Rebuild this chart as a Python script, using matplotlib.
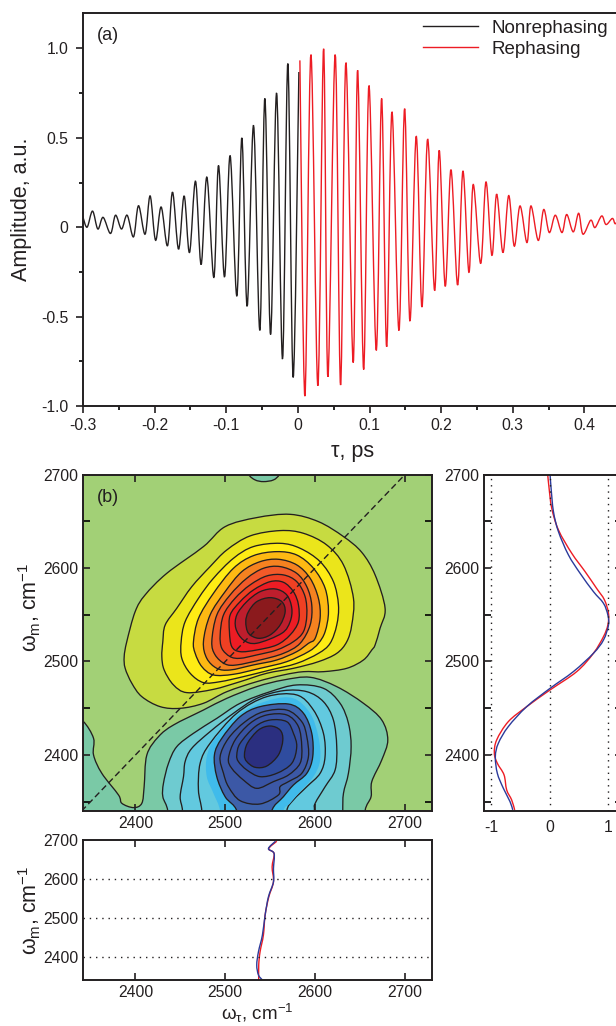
import numpy as np
import matplotlib
matplotlib.use('Agg')
import matplotlib.pyplot as plt
from matplotlib.path import Path
from matplotlib.patches import PathPatch
from matplotlib.ticker import MultipleLocator

plt.rcParams['font.family'] = ['Liberation Sans', 'DejaVu Sans']
plt.rcParams['mathtext.fontset'] = 'custom'
plt.rcParams['mathtext.rm'] = 'Liberation Sans'
plt.rcParams['mathtext.it'] = 'Liberation Sans'
plt.rcParams['mathtext.bf'] = 'Liberation Sans'

# panel (a): extrema of the two signals
nonreph_t = [-.3003, -.2943, -.2867, -.2793, -.2719, -.2616, -.2546, -.2462, -.2384, -.2295,
             -.2225, -.2133, -.2063, -.1987, -.1909, -.1820, -.1750, -.1666, -.1588, -.1513,
             -.1429, -.1351, -.1271, -.1173, -.1108, -.1024, -.0946, -.0852, -.0782, -.0708,
             -.0619, -.0531, -.0461, -.0381, -.0297, -.0214, -.0140, -.0066, .0014]
nonreph_a = [.06, 0, .09, -.01, .055, -.035, .067, -.01, .067, -.054,
             .12, -.039, .175, -.073, .113, -.104, .196, -.123, .175, -.142,
             .257, -.209, .28, -.281, .345, -.278, .40, -.384, .50, -.442,
             .568, -.576, .72, -.60, .75, -.736, .915, -.84, .868]
reph_t = [.0028, .0098, .0182, .0279, .0359, .0419, .0521, .0596, .0670, .0772,
          .0834, .0918, .0992, .1094, .1169, .1239, .1313, .1411, .1490, .1564,
          .1652, .1732, .1811, .1909, .1973, .2057, .2137, .2230, .2304, .2388,
          .2448, .2552, .2626, .2709, .2775, .2863, .2943, .3021, .3101, .3198,
          .3254, .3356, .3432, .3510, .3594, .3687, .3753, .3845, .3920, .3980,
          .4088, .4148, .4242, .4302, .4390, .4427, .4455]
reph_a = [.933, -.945, .965, -.887, .998, -.837, .965, -.883, .92, -.757,
          .878, -.796, .792, -.689, .72, -.669, .645, -.578, .663, -.524,
          .509, -.447, .492, -.354, .43, -.33, .322, -.324, .313, -.253,
          .239, -.203, .253, -.158, .185, -.142, .177, -.106, .119, -.086,
          .119, -.074, .099, -.03, .067, -.03, .071, -.026, .078, -.039,
          .039, -.002, .063, .015, .049, .02, .03]

# panel (b): positive contours, outer to inner
pos_1 = [(2390.4, 2521.3), (2399.7, 2553.3), (2410.8, 2571.2), (2434.9, 2594.3), (2475.7, 2622.9),
         (2499.8, 2644.2), (2535, 2653.9), (2572.1, 2657.4), (2603.6, 2649.6), (2631.5, 2633.6),
         (2651.8, 2616.8), (2666.7, 2592.6), (2677.8, 2556.9), (2672.2, 2535.5), (2666.7, 2517.7),
         (2663, 2512.3), (2653.7, 2501.6), (2635.2, 2492.7), (2609.2, 2489.1), (2587, 2489.1),
         (2564.7, 2485.6), (2535, 2478.4), (2501.7, 2467.7), (2475.7, 2455.3), (2449.8, 2449.9),
         (2427.5, 2451.7), (2407.1, 2462.4), (2396, 2476.7), (2388.6, 2492.7), (2387.5, 2505.2)]
pos_2 = [(2430.5, 2521.3), (2433.1, 2539), (2446, 2556.9), (2462.7, 2580), (2483.1, 2601.5),
         (2501.7, 2619.3), (2527.6, 2634.3), (2561, 2640), (2587, 2637.1), (2612.9, 2624.6),
         (2631.5, 2603.3), (2642.6, 2567.6), (2640.7, 2539), (2635.2, 2521.2), (2624, 2508.7),
         (2603.6, 2499.8), (2575.8, 2492.7), (2546.2, 2487.4), (2516.5, 2478.4), (2486.8, 2470.2),
         (2457.2, 2466.7), (2442.4, 2474.9), (2432, 2490.9), (2429.4, 2505.2)]
pos_3 = [(2450.9, 2521.3), (2455.3, 2542.6), (2470.2, 2567.6), (2486.8, 2589), (2509.1, 2610.4),
         (2531.3, 2622.9), (2561, 2626.4), (2583.2, 2621.1), (2605.5, 2606.8), (2620.3, 2585.4),
         (2625.9, 2560.5), (2624, 2539), (2616.6, 2519.4), (2603.6, 2508.7), (2579.5, 2498),
         (2549.9, 2490.9), (2520.2, 2483.8), (2494.3, 2478.4), (2475.7, 2477.4), (2460.9, 2487.4),
         (2451.6, 2503.4)]
pos_4 = [(2464.6, 2521.3), (2470.2, 2546.2), (2486.8, 2572.9), (2509.1, 2599.7), (2531.3, 2613.2),
         (2557.3, 2617.5), (2579.5, 2613.9), (2598.1, 2599.7), (2611.1, 2578.3), (2614.8, 2553.3),
         (2611.1, 2532), (2603.6, 2519.4), (2592.5, 2510.5), (2568.4, 2499.8), (2538.8, 2492.7),
         (2509.1, 2486.3), (2486.8, 2485.6), (2473.9, 2494.5), (2466.5, 2508.7)]
pos_5 = [(2475.7, 2521.3), (2483.1, 2549.8), (2499.8, 2574.7), (2518.4, 2596.1), (2538.8, 2606.8),
         (2559.2, 2609.3), (2579.5, 2603.3), (2594.4, 2589), (2603.6, 2567.6), (2605.5, 2546.2),
         (2600, 2524.8), (2592.5, 2519.4), (2579.5, 2510.5), (2557.3, 2501.6), (2531.3, 2496.3),
         (2505.4, 2490.9), (2490.6, 2492.7), (2479.4, 2503.4)]
pos_6 = [(2485, 2521.3), (2490.6, 2549.8), (2505.4, 2571.2), (2523.9, 2589), (2542.5, 2599.7),
         (2561, 2601.5), (2579.5, 2594.3), (2590.7, 2580), (2596.2, 2560.5), (2594.4, 2539),
         (2583.2, 2519.4), (2564.7, 2508.7), (2538.8, 2501.6), (2512.8, 2496.3), (2499.8, 2497.3),
         (2488.7, 2507)]
pos_7 = [(2494.3, 2528.4), (2498, 2549.8), (2510.9, 2567.6), (2527.6, 2581.9), (2546.2, 2591.5),
         (2564.7, 2592.6), (2579.5, 2585.4), (2588.8, 2569.4), (2590.7, 2549.8), (2587, 2532),
         (2575.8, 2521.2), (2557.3, 2512.3), (2535, 2507), (2516.5, 2503.4), (2505.4, 2505.2),
         (2496.1, 2514.1)]
pos_8 = [(2504.6, 2532), (2505.4, 2549.8), (2516.5, 2564), (2531.3, 2576.5), (2549.9, 2585.4),
         (2564.7, 2584.7), (2575.8, 2574.7), (2581.4, 2560.5), (2581.4, 2542.6), (2572.1, 2528.4),
         (2557.3, 2517.7), (2535, 2512.3), (2516.5, 2510.5), (2507.2, 2515.9)]
pos_9 = [(2511.7, 2535.5), (2512.8, 2549.8), (2523.9, 2564), (2538.8, 2574.7), (2555.4, 2577.6),
         (2568.4, 2571.2), (2574, 2556.9), (2572.1, 2542.6), (2562.9, 2530.2), (2535, 2519.5),
         (2520.2, 2523)]
pos_10 = [(2522.8, 2542.6), (2525.8, 2553.3), (2535, 2564), (2549.9, 2568.3), (2562.9, 2564),
          (2566.6, 2553.3), (2561, 2539), (2549.9, 2528.4), (2536.9, 2524.8), (2525.8, 2530.2)]
pos_colors = ['#C7DB41', '#EBE51B', '#FFEC14', '#FDB913', '#F58220', '#F15A29', '#EF4023',
              '#ED1C24', '#BE1E2D', '#8B1A1D']

# negative contours: the first ones run off the lower edge of the map
neg_top = [(2522, 2712), (2525.8, 2700.2), (2533.2, 2694.2), (2542.5, 2692.4), (2553.6, 2694.2),
           (2560.3, 2700.2), (2564, 2712)]
neg_1 = [(2330, 2440), (2342.2, 2435.7), (2353.4, 2417.8), (2353.4, 2400), (2362.6, 2380.4), (2381.2, 2357.2),
         (2384.9, 2348.3), (2397.9, 2343.7), (2407.1, 2348.3), (2409.7, 2366.1), (2412.7, 2400),
         (2425.7, 2419.6), (2442.4, 2432.1), (2475.7, 2448.1), (2501.7, 2460.6), (2535, 2473.1),
         (2564.7, 2480.2), (2594.4, 2483.1), (2624, 2473.1), (2653.7, 2455.3), (2674.1, 2437.4),
         (2680.8, 2416), (2674.1, 2394.7), (2663, 2371.5), (2662.2, 2355.4), (2655.6, 2340.5)]
neg_2 = [(2436, 2340), (2430.5, 2355.4), (2431.2, 2369.7), (2436.8, 2391.1), (2446, 2408.9),
         (2464.6, 2423.2), (2490.6, 2439.2), (2516.5, 2455.3), (2549.9, 2467.7), (2579.5, 2474.9),
         (2609.2, 2471.3), (2627.7, 2455.3), (2637, 2433.9), (2640, 2408.9), (2637, 2380.4),
         (2631.5, 2359), (2630.7, 2340)]
neg_3 = [(2452.4, 2340), (2449.8, 2355.4), (2453.5, 2376.8), (2455.3, 2392.9), (2462.7, 2407.1),
         (2483.1, 2425), (2509.1, 2444.6), (2535, 2460.6), (2564.7, 2468.8), (2590.7, 2467.7),
         (2609.2, 2457), (2620.3, 2437.4), (2624, 2408.9), (2622.2, 2384), (2611.1, 2366.1),
         (2600, 2348.3), (2599.2, 2340)]
neg_4 = [(2473.9, 2340), (2470.1, 2362.6), (2472, 2391.1), (2483.1, 2412.5), (2512.8, 2444.6),
         (2546.2, 2462.4), (2579.5, 2464.2), (2598.1, 2448.1), (2609.2, 2423.2), (2611, 2398.2),
         (2605.5, 2380.4), (2590.7, 2366.1), (2575.8, 2351.9), (2568.4, 2340)]
neg_5 = [(2494.2, 2340), (2486.8, 2359), (2479.4, 2376.8), (2479.4, 2398.2), (2488.7, 2417.8),
         (2516.5, 2444.6), (2549.9, 2458.8), (2575.8, 2460.6), (2594.4, 2444.6), (2603.6, 2419.6),
         (2605.5, 2394.6), (2598.1, 2376.8), (2583.2, 2360.8), (2572.1, 2348.3), (2564.7, 2340)]
neg_6 = [(2512.8, 2340), (2499.8, 2355.4), (2490.5, 2376.8), (2487.9, 2400), (2496.1, 2417.8),
         (2516.5, 2441), (2538.7, 2451.7), (2570.3, 2454.5), (2587, 2444.6), (2596.2, 2423.2),
         (2597.3, 2398.2), (2590.7, 2380.4), (2575.8, 2367.9), (2564.7, 2355.4), (2551.7, 2340)]
neg_7 = [(2494.2, 2398.2), (2503.5, 2417.8), (2522.1, 2435.6), (2542.5, 2446.3), (2568.4, 2448.1),
         (2585.1, 2435.6), (2590.7, 2419.6), (2592.5, 2398.2), (2585.1, 2380.4), (2570.3, 2371.5),
         (2561, 2366.1), (2559.1, 2357.2), (2538.7, 2347.6), (2516.5, 2351.1), (2503.5, 2366.1),
         (2498, 2380.4)]
neg_8 = [(2503.5, 2396.4), (2510.9, 2416), (2527.6, 2433.9), (2546.2, 2442.8), (2568.4, 2442.8),
         (2581.4, 2430.3), (2585.1, 2408.9), (2583.2, 2391.1), (2570.3, 2378.6), (2553.6, 2371.5),
         (2535, 2364.3), (2520.2, 2373.2), (2507.2, 2385.7)]
neg_9 = [(2512.8, 2400), (2516.5, 2412.5), (2533.2, 2430.3), (2549.9, 2437.4), (2568.4, 2435.6),
         (2575.8, 2423.2), (2579.5, 2408.9), (2574, 2391.1), (2557.3, 2380.4), (2538.7, 2376.8),
         (2523.9, 2384), (2514.6, 2392.9)]
neg_10 = [(2521.3, 2400), (2524.6, 2412.5), (2536.9, 2426.7), (2549.9, 2431), (2561, 2426.7),
          (2564, 2416), (2559.1, 2400), (2546.2, 2388.2), (2533.2, 2386.8), (2523.9, 2392.9)]
neg_colors = ['#7AC9A6', '#6ECBD0', '#62C9DF', '#40BBEB', '#3E62AC', '#3C58A6', '#3853A4',
              '#2F4C9F', '#2B2F80']

# slice through the map, right of panel (b)
side_w = [2699.5, 2685.2, 2660.3, 2638.9, 2614, 2594.3, 2574.7, 2562.2, 2549.8, 2539, 2523,
          2508.8, 2489.2, 2471.3, 2451.7, 2430.4, 2412.5, 2398.3, 2380.4, 2364.4, 2350.1, 2341.2]
side_blue = [.006, .023, .063, .148, .318, .517, .744, .915, .989, 1, .915,
             .744, .403, .006, -.392, -.705, -.875, -.926, -.892, -.79, -.676, -.63]
side_red_w = [2699.5, 2685.2, 2663.9, 2640.7, 2615.7, 2596.1, 2578, 2566, 2551.6, 2539, 2526.6,
              2508.8, 2489.2, 2469.6, 2451.7, 2435.7, 2416.1, 2401.8, 2391.1, 2378.7, 2362.6, 2351.9, 2341.2]
side_red = [-.034, -.011, .034, .148, .375, .602, .80, .93, 1, .989, .915,
            .744, .46, .006, -.392, -.705, -.903, -.943, -.892, -.778, -.733, -.648, -.597]

# peak position against omega_m, below panel (b)
cls_w_blue = [2697.5, 2678.7, 2666, 2627.6, 2593.5, 2555.1, 2508.2, 2457, 2414.4, 2380.4, 2354.8, 2342]
cls_t_blue = [2555.8, 2548, 2554.3, 2553.6, 2553.6, 2548, 2544.3, 2541.3, 2536.9, 2535, 2536.9, 2541.3]
cls_w_red = [2697.5, 2678.7, 2666, 2631.8, 2593.5, 2555.1, 2508.2, 2457, 2414.4, 2380.4, 2342]
cls_t_red = [2557.3, 2548.4, 2554.3, 2552.1, 2553.6, 2548.4, 2544.3, 2542.4, 2538.7, 2537.2, 2537.2]

W, H = 616, 1026
TXT = '#231F20'
RED = '#ED1C24'
BLUE = '#2B3A9B'
TICK = 11.3
LABEL = 15.5


def make_axes(left, top, right, bottom):
    ax = fig.add_axes([left / W, 1 - bottom / H, (right - left) / W, (bottom - top) / H])
    for s in ax.spines.values():
        s.set_linewidth(1.4)
        s.set_color(TXT)
    ax.tick_params(colors=TXT, labelsize=TICK, width=1.2)
    ax.tick_params(which='minor', width=1.2)
    return ax


def smooth_path(pts, closed=True):
    # catmull-rom through the read points, as bezier segments
    p = np.array(pts, dtype=float)
    n = len(p)
    verts = [p[0]]
    codes = [Path.MOVETO]
    for i in range(n if closed else n - 1):
        if closed:
            p0, p1, p2, p3 = p[i - 1], p[i], p[(i + 1) % n], p[(i + 2) % n]
        else:
            p0, p1, p2, p3 = p[max(i - 1, 0)], p[i], p[i + 1], p[min(i + 2, n - 1)]
        verts += [p1 + (p2 - p0) / 6, p2 - (p3 - p1) / 6, p2]
        codes += [Path.CURVE4] * 3
    return Path(verts, codes)


def add_contour(ax, pts, color, lw=0.95, run_off=False):
    pts = list(pts)
    if run_off:
        pts += [(pts[-1][0], 2310), (pts[0][0], 2310)]
    patch = PathPatch(smooth_path(pts), facecolor=color, edgecolor=TXT if lw else 'none', linewidth=lw)
    ax.add_patch(patch)


def add_curve(ax, x, y, color, lw=1.0):
    pts = list(zip(x, y))
    ax.add_patch(PathPatch(smooth_path(pts, closed=False), facecolor='none', edgecolor=color, linewidth=lw))


def plot_signals():
    ax = make_axes(83, 13, 622, 406)
    add_curve(ax, nonreph_t, nonreph_a, '#231F20')
    add_curve(ax, reph_t, reph_a, RED)
    ax.plot([], [], color='#231F20', lw=1.0, label='Nonrephasing')
    ax.plot([], [], color=RED, lw=1.0, label='Rephasing')
    ax.set_xlim(-0.3, 0.4525)
    ax.set_ylim(-1.0, 1.198)
    ax.xaxis.set_major_locator(MultipleLocator(0.1))
    ax.xaxis.set_minor_locator(MultipleLocator(0.05))
    ax.yaxis.set_major_locator(MultipleLocator(0.5))
    ax.yaxis.set_minor_locator(MultipleLocator(0.25))
    ax.xaxis.set_major_formatter(lambda v, pos: '0' if abs(v) < 1e-9 else f'{v:.1f}')
    ax.yaxis.set_major_formatter(lambda v, pos: '0' if abs(v) < 1e-9 else f'{v:.1f}')
    ax.tick_params(which='major', length=5, direction='out')
    ax.tick_params(axis='y', which='major', pad=5.5)
    ax.tick_params(which='minor', length=3.2, direction='out')
    ax.set_xlabel('\u03c4, ps', fontsize=LABEL, color=TXT)
    ax.xaxis.set_label_coords(0.5, -0.088)
    ax.set_ylabel('Amplitude, a.u.', fontsize=LABEL, color=TXT)
    ax.yaxis.set_label_coords(-0.095, 0.5)
    ax.text(0.026, 0.944, '(a)', transform=ax.transAxes, fontsize=13, color=TXT, va='center')
    ax.legend(loc='upper left', bbox_to_anchor=(415.5 / W, 1 - 12 / H), bbox_transform=fig.transFigure,
              frameon=False, fontsize=13.5, handlelength=2.93, handletextpad=0.7, labelspacing=0.2,
              borderpad=0.4, borderaxespad=0, labelcolor=TXT)


def plot_map():
    ax = make_axes(83.3, 474.5, 432, 810.7)
    ax.set_facecolor('#A2D076')
    add_contour(ax, neg_top, neg_colors[0])
    for pts, c in zip([pos_1, pos_2, pos_3, pos_4, pos_5, pos_6, pos_7, pos_8, pos_9, pos_10], pos_colors):
        add_contour(ax, pts, c)
    add_contour(ax, neg_1, neg_colors[0], run_off=True)
    add_contour(ax, neg_2, neg_colors[1], run_off=True)
    add_contour(ax, neg_3, neg_colors[2], run_off=True)
    add_contour(ax, neg_4, neg_colors[2], run_off=True)
    add_contour(ax, neg_5, neg_colors[3], lw=0, run_off=True)
    add_contour(ax, neg_6, neg_colors[4], run_off=True)
    add_contour(ax, neg_7, neg_colors[5])
    add_contour(ax, neg_8, neg_colors[6])
    add_contour(ax, neg_9, neg_colors[7])
    add_contour(ax, neg_10, neg_colors[8])
    ax.plot([2340, 2700], [2340, 2700], color=TXT, lw=1.0, ls=(0, (4.5, 2.5)), zorder=3)
    ax.set_xlim(2342, 2730)
    ax.set_ylim(2340.4, 2700)
    ax.set_xticks([2400, 2500, 2600, 2700])
    ax.yaxis.set_major_locator(MultipleLocator(100))
    ax.yaxis.set_minor_locator(MultipleLocator(50))
    ax.tick_params(which='both', length=5, direction='in', top=True, right=True)
    ax.set_ylabel('\u03c9$_{\\mathrm{m}}$, cm$^{-1}$', fontsize=LABEL, color=TXT)
    ax.yaxis.set_label_coords(-0.115, 0.605)
    ax.text(0.039, 0.933, '(b)', transform=ax.transAxes, fontsize=13, color=TXT, va='center')


def plot_side():
    ax = make_axes(484.3, 474.5, 622, 810.7)
    for v in [-1, 0, 1]:
        ax.axvline(v, color=TXT, lw=1.0, ls=(0, (1, 3.5)))
    add_curve(ax, side_red, side_red_w, RED)
    add_curve(ax, side_blue, side_w, BLUE)
    ax.set_xlim(-1.114, 1.23)
    ax.set_ylim(2340.4, 2700)
    ax.set_xticks([-1, 0, 1])
    ax.set_xticklabels(['-1', '0', '1'])
    ax.yaxis.set_major_locator(MultipleLocator(100))
    ax.yaxis.set_minor_locator(MultipleLocator(50))
    ax.tick_params(which='both', axis='y', length=5, direction='in', right=True)
    ax.tick_params(axis='x', length=0, pad=7)


def plot_cls():
    ax = make_axes(83.3, 840.3, 432, 980)
    for v in [2400, 2500, 2600]:
        ax.axhline(v, color=TXT, lw=1.0, ls=(0, (1, 3.5)))
    add_curve(ax, cls_t_red, cls_w_red, RED)
    add_curve(ax, cls_t_blue, cls_w_blue, BLUE)
    ax.set_xlim(2342, 2730)
    ax.set_ylim(2342, 2700)
    ax.set_xticks([2400, 2500, 2600, 2700])
    ax.set_yticks([2400, 2500, 2600, 2700])
    ax.tick_params(axis='x', length=5, direction='in', top=True)
    ax.tick_params(axis='y', length=0)
    ax.set_xlabel('\u03c9$_{\\tau}$, cm$^{-1}$', fontsize=LABEL - 2, color=TXT)
    ax.xaxis.set_label_coords(0.5, -0.16)
    ax.set_ylabel('\u03c9$_{\\mathrm{m}}$, cm$^{-1}$', fontsize=LABEL, color=TXT)
    ax.yaxis.set_label_coords(-0.115, 0.5)


fig = plt.figure(figsize=(W / 100, H / 100), dpi=100)
plot_signals()
plot_map()
plot_side()
plot_cls()
fig.savefig('out.png', dpi=100)
